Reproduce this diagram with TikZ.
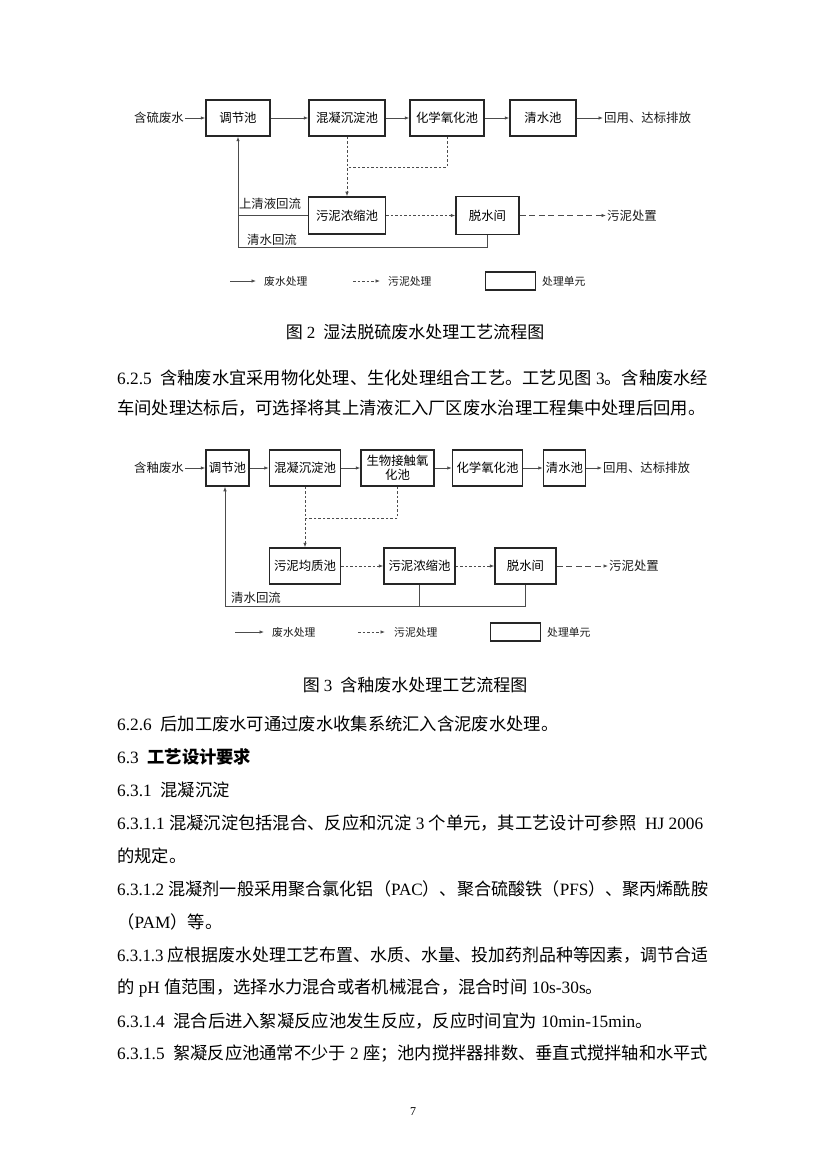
\documentclass[tikz,border=0pt]{standalone}
\usepackage{fontspec}
\usepackage{graphicx}
\setmainfont{Liberation Serif}
\newfontfamily\cjk{Noto Sans CJK SC}
\usetikzlibrary{arrows.meta}
\newcommand\latn[1]{{\rmfamily #1}}
\newcommand\bodyfont{\cjk\fontsize{17.3}{20}\selectfont}
\newcommand\dfont{\cjk\fontsize{12.4}{14.5}\selectfont}
\newcommand\lfont{\cjk\fontsize{10.8}{13}\selectfont}
\newcommand\capfont{\cjk\fontsize{17}{20}\selectfont}
\begin{document}
\begin{tikzpicture}[x=1pt,y=-1pt,
  box/.style={draw=black!85,line width=1.5pt,minimum height=36pt,inner sep=0pt,font=\dfont,fill=white},
  flow/.style={draw=black!70,line width=0.75pt},
  tip/.style={-{Latex[length=4.5pt,width=3.5pt]}},
  sdash/.style={dash pattern=on 2.5pt off 2pt},
  ldash/.style={dash pattern=on 6pt off 3.5pt},
  lbl/.style={font=\dfont,inner sep=1pt,text=black!90},
  leg/.style={font=\lfont,inner sep=0pt,anchor=west,text=black!90},
  body/.style={font=\bodyfont,inner sep=0pt,anchor=west},
]
\fill[white] (0,0) rectangle (826,1169);
\useasboundingbox (0,0) rectangle (826,1169);

% ---------- Figure 2 ----------
\node[box,minimum width=64pt] (a2) at (238,118) {调节池};
\node[box,minimum width=76pt] (b2) at (347,118) {混凝沉淀池};
\node[box,minimum width=74pt] (c2) at (447,118) {化学氧化池};
\node[box,minimum width=66pt] (d2) at (543,118) {清水池};
\node[box,minimum width=77pt,minimum height=37pt] (e2) at (347,215.5) {污泥浓缩池};
\node[box,minimum width=63pt,minimum height=38pt] (f2) at (487.5,215.5) {脱水间};
\node[lbl,anchor=east] (in2) at (185,118) {含硫废水};
\node[lbl,anchor=west] (out2) at (603,118) {回用、达标排放};
\node[lbl,anchor=west] (sl2) at (606,215.5) {污泥处置};
\node[lbl] (t2a) at (270,204) {上清液回流};
\node[lbl] (t2b) at (272,240) {清水回流};
\coordinate (j2) at (347,167);
\coordinate (k2) at (238,247);

\draw[flow,tip] (in2) -- (a2);
\draw[flow,tip] (a2) -- (b2);
\draw[flow,tip] (b2) -- (c2);
\draw[flow,tip] (c2) -- (d2);
\draw[flow,tip] (d2) -- (out2);
\draw[flow,sdash,tip] (b2.south) -- (e2.north);
\draw[flow,sdash] (c2.south) |- (j2);
\draw[flow,sdash,tip] (e2) -- (f2);
\draw[flow,ldash,tip] (f2) -- (sl2);
\draw[flow,tip] (f2.south) |- (k2) -- (a2.south);
\draw[flow] (e2.west) -- (e2.west -| k2);

% legend 2
\coordinate (l2a) at (230,281);
\coordinate (l2b) at (256,281);
\coordinate (l2c) at (353,281);
\coordinate (l2d) at (380,281);
\draw[flow,tip] (l2a) -- (l2b);
\node[leg] (l2t1) at (264,281) {废水处理};
\draw[flow,sdash,tip] (l2c) -- (l2d);
\node[leg] (l2t2) at (388,281) {污泥处理};
\node[box,minimum width=50pt,minimum height=18pt] (l2r) at (510.5,281) {};
\node[leg] (l2t3) at (542,281) {处理单元};

\node[font=\capfont,inner sep=0pt] (cap2) at (415,332) {图\hspace{4pt}\latn{2}\hspace{8pt}湿法脱硫废水处理工艺流程图};

% ---------- text ----------
\node[body] (p1) at (117,378) {\resizebox{591pt}{\height}{\latn{6.2.5\ \ }含釉废水宜采用物化处理、生化处理组合工艺。工艺见图\latn{ 3}。含釉废水经}};
\node[body] (p2) at (117,408) {车间处理达标后，可选择将其上清液汇入厂区废水治理工程集中处理后回用。};

% ---------- Figure 3 ----------
\node[box,minimum width=43pt] (a3) at (227.5,468) {调节池};
\node[box,minimum width=71pt] (b3) at (305,468) {混凝沉淀池};
\node[box,minimum width=73pt,align=center] (c3) at (397.5,468) {生物接触氧\\化池};
\node[box,minimum width=70pt] (d3) at (487.5,468) {化学氧化池};
\node[box,minimum width=42pt] (e3) at (564.5,468) {清水池};
\node[lbl,anchor=east] (in3) at (185,468) {含釉废水};
\node[lbl,anchor=west] (out3) at (602,468) {回用、达标排放};
\node[box,minimum width=71pt] (f3) at (305,566) {污泥均质池};
\node[box,minimum width=71pt] (g3) at (419.5,566) {污泥浓缩池};
\node[box,minimum width=61pt] (h3) at (525.5,566) {脱水间};
\node[lbl,anchor=west] (sl3) at (608,566) {污泥处置};
\node[lbl] (t3) at (256,598) {清水回流};
\coordinate (j3) at (305,518);
\coordinate (k3) at (225,606);

\draw[flow,tip] (in3) -- (a3);
\draw[flow,tip] (a3) -- (b3);
\draw[flow,tip] (b3) -- (c3);
\draw[flow,tip] (c3) -- (d3);
\draw[flow,tip] (d3) -- (e3);
\draw[flow,tip] (e3) -- (out3);
\draw[flow,sdash,tip] (b3.south) -- (f3.north);
\draw[flow,sdash] (c3.south) |- (j3);
\draw[flow,sdash,tip] (f3) -- (g3);
\draw[flow,sdash,tip] (g3) -- (h3);
\draw[flow,ldash,tip] (h3) -- (sl3);
\draw[flow,tip] (h3.south) |- (k3) -- (k3 |- a3.south);
\draw[flow] (g3.south) -- (g3.south |- k3);

% legend 3
\coordinate (l3a) at (235,632);
\coordinate (l3b) at (264,632);
\coordinate (l3c) at (358,632);
\coordinate (l3d) at (385,632);
\draw[flow,tip] (l3a) -- (l3b);
\node[leg] (l3t1) at (272,632) {废水处理};
\draw[flow,sdash,tip] (l3c) -- (l3d);
\node[leg] (l3t2) at (394,632) {污泥处理};
\node[box,minimum width=50pt,minimum height=18pt] (l3r) at (515.5,632) {};
\node[leg] (l3t3) at (547,632) {处理单元};

\node[font=\capfont,inner sep=0pt] (cap3) at (415,685) {图\hspace{4pt}\latn{3}\hspace{8pt}含釉废水处理工艺流程图};

% ---------- text ----------
\node[body] (p3) at (117,724) {\latn{6.2.6\ \ }后加工废水可通过废水收集系统汇入含泥废水处理。};
\node[body] (p4) at (117,757) {\latn{6.3\ \ }{\bfseries 工艺设计要求}};
\node[body] (p5) at (117,790) {\latn{6.3.1\ \ }混凝沉淀};
\node[body] (p6) at (117,823) {\resizebox{586pt}{\height}{\latn{6.3.1.1 }混凝沉淀包括混合、反应和沉淀\latn{ 3 }个单元，其工艺设计可参照\latn{\ \ HJ 2006}}};
\node[body] (p7) at (117,856) {的规定。};
\node[body] (p8) at (117,889) {\resizebox{591pt}{\height}{\latn{6.3.1.2 }混凝剂一般采用聚合氯化铝（\latn{PAC}）、聚合硫酸铁（\latn{PFS}）、聚丙烯酰胺}};
\node[body] (p9) at (117,922) {（\latn{PAM}）等。};
\node[body] (p10) at (117,955) {\resizebox{591pt}{\height}{\latn{6.3.1.3 }应根据废水处理工艺布置、水质、水量、投加药剂品种等因素，调节合适}};
\node[body] (p11) at (117,988) {的\latn{ pH }值范围，选择水力混合或者机械混合，混合时间\latn{ 10s-30s}。};
\node[body] (p12) at (117,1021) {\latn{6.3.1.4\ \ }混合后进入絮凝反应池发生反应，反应时间宜为\latn{ 10min-15min}。};
\node[body] (p13) at (117,1054) {\resizebox{591pt}{\height}{\latn{6.3.1.5\ \ }絮凝反应池通常不少于\latn{ 2 }座；池内搅拌器排数、垂直式搅拌轴和水平式}};

\node[font=\rmfamily\fontsize{12}{14}\selectfont,inner sep=0pt] (pg) at (413,1112) {7};
\end{tikzpicture}
\end{document}
